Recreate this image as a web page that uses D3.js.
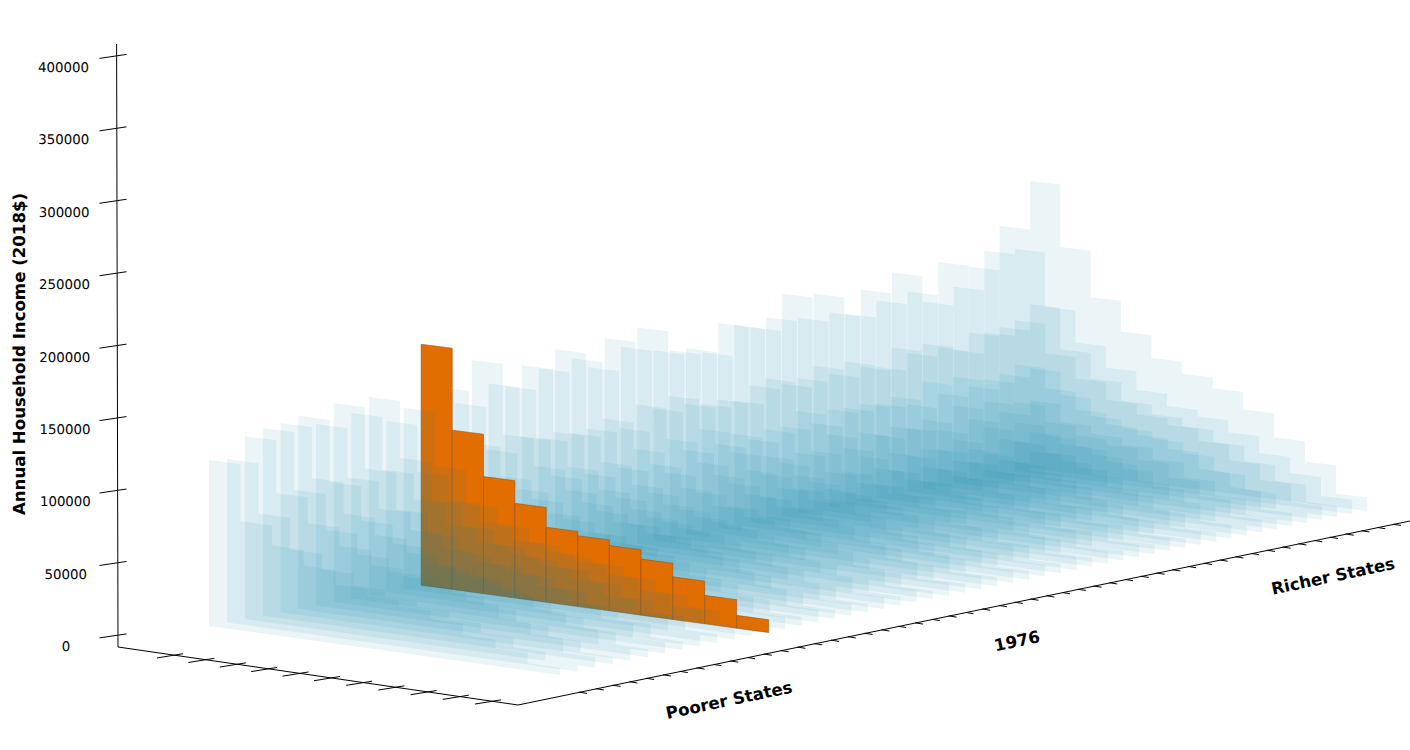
<!DOCTYPE html>
<html>
<head>
<meta charset="utf-8">
<style>
  html, body { margin: 0; padding: 0; background: #fff; overflow: hidden; }
  text { font-family: "DejaVu Sans", sans-serif; fill: #000; text-rendering: geometricPrecision; }
</style>
<script src="https://cdn.jsdelivr.net/npm/d3@7/dist/d3.min.js"></script>
</head>
<body>
<div id="chart"></div>
<script>
"use strict";

var w = 1410,
  h = 750;

var incomeTicks = [0, 50000, 100000, 150000, 200000, 250000, 300000, 350000, 400000];
var rankTicks = [0, 1, 2, 3, 4, 5, 6, 7, 8, 9, 10];
var highlightState = 12;
var stateLabels = ["Poorer States", "1976", "Richer States"];
var incomeTitle = "Annual Household Income (2018$)";

//one row per state (poor to rich), one value per income group (top group first)
var stateIncome = [
  [115700, 76000, 62000, 51000, 41000, 36000, 32000, 26000, 18000, 12000, 5000],
  [114100, 79000, 57000, 46000, 38000, 33000, 29000, 24000, 17000, 10500, 4200],
  [127900, 91000, 73000, 60000, 50000, 45000, 40000, 34000, 25000, 17000, 7500],
  [131400, 91000, 66000, 52000, 43000, 38000, 34000, 28000, 20000, 13000, 5200],
  [132800, 97000, 75000, 63000, 54000, 47000, 43000, 36000, 27000, 18500, 8200],
  [135600, 92000, 68000, 55000, 44000, 40000, 35000, 30000, 21000, 14000, 5600],
  [127600, 93000, 74000, 62000, 52000, 46000, 42000, 35000, 27000, 18000, 7900],
  [140200, 97000, 71000, 57000, 47000, 42000, 37000, 31000, 22500, 15000, 6000],
  [131100, 94000, 76000, 61000, 52000, 47000, 41500, 35000, 26000, 18000, 8000],
  [140200, 100000, 73000, 58000, 48000, 42000, 38000, 31500, 23000, 15000, 6200],
  [121100, 88000, 71000, 59000, 49000, 44000, 40000, 33500, 25500, 17500, 7800],
  [128100, 90000, 66000, 54000, 45000, 39000, 36000, 30000, 22000, 14500, 6000],
  [171200, 113000, 83000, 67000, 53000, 50000, 46000, 39500, 30000, 20000, 9000],
  [138700, 102000, 81000, 68000, 57000, 50000, 45000, 38000, 29000, 20000, 8600],
  [125200, 95000, 70000, 56000, 46000, 41000, 37000, 31000, 23000, 15000, 6400],
  [153700, 103500, 84000, 70000, 58000, 52000, 47000, 40000, 30000, 20500, 9000],
  [135000, 100000, 75000, 59000, 48000, 43000, 39000, 33000, 24000, 15500, 6500],
  [131000, 97000, 79000, 66000, 55000, 49000, 45000, 37000, 28500, 19500, 8500],
  [143800, 99000, 72000, 58000, 47000, 42000, 38000, 32000, 23500, 15500, 6200],
  [139500, 96000, 78000, 65000, 54000, 48000, 44000, 37000, 28000, 19500, 8400],
  [151100, 97000, 72000, 57000, 48000, 42000, 38000, 32000, 23000, 15500, 6500],
  [142600, 102000, 83000, 69000, 58000, 51000, 47000, 40000, 30000, 20500, 9000],
  [134100, 93000, 70000, 56000, 46000, 41000, 37000, 31000, 23000, 15000, 6000],
  [152900, 108000, 86000, 72000, 60000, 53000, 49000, 41000, 31000, 21000, 9200],
  [144700, 103000, 76000, 61000, 50000, 44000, 40000, 34000, 25000, 16000, 6400],
  [156600, 110000, 89000, 75000, 62000, 55000, 50000, 42000, 32000, 21500, 9400],
  [137900, 102000, 76000, 60000, 50000, 44000, 41000, 33500, 24500, 16000, 6600],
  [136000, 100000, 81000, 68000, 57000, 50000, 46000, 39000, 29500, 20000, 8800],
  [135400, 101000, 75000, 61000, 50000, 45000, 40000, 33500, 24500, 16000, 6300],
  [130500, 98000, 80000, 66000, 55000, 50000, 45000, 38000, 29000, 19500, 8400],
  [149700, 107000, 80000, 65000, 53000, 47000, 42000, 35500, 26000, 17000, 6800],
  [146200, 110000, 89000, 75000, 62000, 55000, 50000, 42500, 32000, 21500, 9400],
  [142500, 104000, 78000, 63000, 51000, 46000, 41000, 34500, 25500, 16500, 6600],
  [147800, 106000, 86000, 72000, 60000, 53000, 49000, 41000, 31000, 21000, 9000],
  [163100, 113000, 85000, 68000, 56000, 49000, 45000, 37000, 27500, 18000, 7200],
  [143400, 105000, 86000, 72000, 59000, 53000, 49000, 41000, 30500, 20500, 9000],
  [159100, 112000, 84000, 69000, 56000, 50000, 45000, 37500, 27500, 18000, 7000],
  [143200, 106000, 87000, 73000, 61000, 54000, 50000, 42000, 31500, 21000, 9400],
  [140400, 104000, 79000, 63000, 52000, 47000, 42000, 35000, 25500, 16500, 6600],
  [156200, 116000, 94000, 79000, 66000, 58000, 53000, 45000, 33500, 22500, 9600],
  [146000, 110000, 83000, 67000, 55000, 49000, 45000, 37000, 27000, 17500, 7000],
  [164800, 115000, 93000, 78000, 65000, 58000, 53000, 45000, 33500, 22500, 9800],
  [148700, 110000, 84000, 68000, 56000, 50000, 45000, 37500, 27500, 18000, 7200],
  [139200, 106000, 87000, 73000, 61000, 54000, 50000, 42000, 31500, 21000, 9200],
  [166700, 117000, 89000, 72000, 59000, 53000, 48000, 40000, 29500, 19000, 7600],
  [146400, 115000, 94000, 79000, 66000, 58000, 53000, 45500, 33500, 23000, 9600],
  [159300, 117000, 89000, 72000, 59000, 53000, 48000, 40000, 29500, 19000, 7400],
  [169300, 120000, 98000, 82000, 69000, 61000, 56000, 47000, 35500, 24000, 10200],
  [186000, 130000, 99000, 80000, 66000, 59000, 53000, 44000, 32500, 21000, 8200],
  [166800, 126000, 102000, 86000, 72000, 63000, 58000, 49000, 36500, 24500, 10600],
  [215900, 169000, 134000, 111000, 94000, 85000, 77000, 64000, 46000, 31000, 10000]
];

var rankCount = stateIncome[0].length;
var stateCount = stateIncome.length;

var svg = d3
  .select("#chart")
  .append("svg")
  .attr("width", w)
  .attr("height", h);

//bars live in [0,1]x[0,1] floor coords, income is a height in pixels
var rankScale = d3.scaleLinear().domain([0, rankCount]).range([0, 1]);
//near states are spaced a little wider than the corners alone give
var stateScale = d3.scaleLinear().domain([0, highlightState, stateCount - 1]).range([0, 0.244, 1]);
var incomeScale = d3.scaleLinear().domain([0, 50000]).range([0, 71.73]);

//floor corners of the bar block on screen: rear/front of first state, front/rear of last
var c0 = [209, 626],
  c1 = [560, 675],
  c2 = [1367, 511],
  c3 = [1030, 468];

var dx1 = c1[0] - c2[0],
  dx2 = c3[0] - c2[0],
  sx = c0[0] - c1[0] + c2[0] - c3[0],
  dy1 = c1[1] - c2[1],
  dy2 = c3[1] - c2[1],
  sy = c0[1] - c1[1] + c2[1] - c3[1],
  den = dx1 * dy2 - dx2 * dy1,
  pg = (sx * dy2 - dx2 * sy) / den,
  ph = (dx1 * sy - sx * dy1) / den;

function project(rank, state, income) {
  var u = rankScale(rank),
    v = stateScale(state),
    d = 1 + pg * u + ph * v,
    x = c0[0] + (c1[0] - c0[0] + pg * c1[0]) * u + (c3[0] - c0[0] + ph * c3[0]) * v,
    y = c0[1] + (c1[1] - c0[1] + pg * c1[1]) * u + (c3[1] - c0[1] + ph * c3[1]) * v;
  return [x / d, (y - incomeScale(income)) / d];
}

//far states first so the near ones lay over them
var bars = [];
d3.range(stateCount - 1, -1, -1).forEach(function(s) {
  stateIncome[s].forEach(function(v, r) {
    bars.push({ state: s, rank: r, income: v });
  });
});

svg
  .append("g")
  .selectAll("polygon")
  .data(bars)
  .enter()
  .append("polygon")
  .attr("points", function(d) {
    return [
      project(d.rank, d.state, 0),
      project(d.rank + 1, d.state, 0),
      project(d.rank + 1, d.state, d.income),
      project(d.rank, d.state, d.income)
    ].join(" ");
  })
  .attr("fill", function(d) {
    return d.state === highlightState ? "#e26d00" : "#0a80a8";
  })
  .attr("fill-opacity", function(d) {
    return d.state === highlightState ? 1 : 0.083;
  })
  .attr("stroke", function(d) {
    return d.state === highlightState ? "#8c4a12" : "none";
  })
  .attr("stroke-width", 0.5);

//axes
var axes = svg
  .append("g")
  .attr("stroke", "#000")
  .attr("fill", "none");

var corner = [118, 647],
  front = [518, 705],
  right = [1410, 521],
  axisTop = [116.6, 44];

axes.append("path").attr("d", d3.line()([axisTop, corner, front, right]));

//income axis
var zTickY = d3.scaleLinear().domain([0, 400000]).range([635.5, 56]);
var zLabelX = d3.scaleLinear().domain([0, 400000]).range([66, 63.5]);

axes
  .selectAll(".ztick")
  .data(incomeTicks)
  .enter()
  .append("line")
  .attr("class", "ztick")
  .attr("x1", 99.5)
  .attr("x2", 126.5)
  .attr("y1", function(d) {
    return zTickY(d) + 2.4;
  })
  .attr("y2", function(d) {
    return zTickY(d) - 1.6;
  });

svg
  .selectAll(".zlabel")
  .data(incomeTicks)
  .enter()
  .append("text")
  .attr("class", "zlabel")
  .attr("x", zLabelX)
  .attr("y", function(d) {
    return zTickY(d) + 11.2;
  })
  .attr("dy", "0.35em")
  .attr("text-anchor", "middle")
  .attr("font-size", 13.33)
  .text(function(d) {
    return d;
  });

svg
  .append("text")
  .attr("transform", "translate(19,354) rotate(-90)")
  .attr("dy", "0.35em")
  .attr("text-anchor", "middle")
  .attr("font-size", 16.6)
  .attr("font-weight", "bold")
  .text(incomeTitle);

//rank axis (left floor edge)
var rankTickX = d3.scaleLinear().domain([0, 5, 10]).range([170, 327, 488]);
var leftY = d3.scaleLinear().domain([corner[0], front[0]]).range([corner[1], front[1]]);

axes
  .selectAll(".rtick")
  .data(rankTicks)
  .enter()
  .append("line")
  .attr("class", "rtick")
  .attr("x1", function(d) {
    return rankTickX(d) - 13;
  })
  .attr("x2", function(d) {
    return rankTickX(d) + 13;
  })
  .attr("y1", function(d) {
    return leftY(rankTickX(d)) + 3.4;
  })
  .attr("y2", function(d) {
    return leftY(rankTickX(d)) - 0.8;
  });

//state axis (right floor edge)
var stateTickX = d3.scaleLinear().domain([0, 25, 50]).range([583, 1003, 1397]);
var rightY = d3.scaleLinear().domain([front[0], right[0]]).range([front[1], right[1]]);

axes
  .selectAll(".stick")
  .data(d3.range(stateCount))
  .enter()
  .append("line")
  .attr("class", "stick")
  .attr("x1", function(d) {
    return stateTickX(d) - 4;
  })
  .attr("x2", function(d) {
    return stateTickX(d) + 4;
  })
  .attr("y1", function(d) {
    return rightY(stateTickX(d)) + 0.5;
  })
  .attr("y2", function(d) {
    return rightY(stateTickX(d)) + 1.8;
  });

var stateLabelX = d3.scaleOrdinal().domain(stateLabels).range([729, 1017, 1333]);
var stateLabelY = d3.scaleOrdinal().domain(stateLabels).range([700, 641, 576]);

svg
  .selectAll(".slabel")
  .data(stateLabels)
  .enter()
  .append("text")
  .attr("class", "slabel")
  .attr("transform", function(d) {
    return "translate(" + stateLabelX(d) + "," + stateLabelY(d) + ") rotate(-12)";
  })
  .attr("dy", "0.35em")
  .attr("text-anchor", "middle")
  .attr("font-size", 16.6)
  .attr("font-weight", "bold")
  .text(function(d) {
    return d;
  });
</script>
</body>
</html>
